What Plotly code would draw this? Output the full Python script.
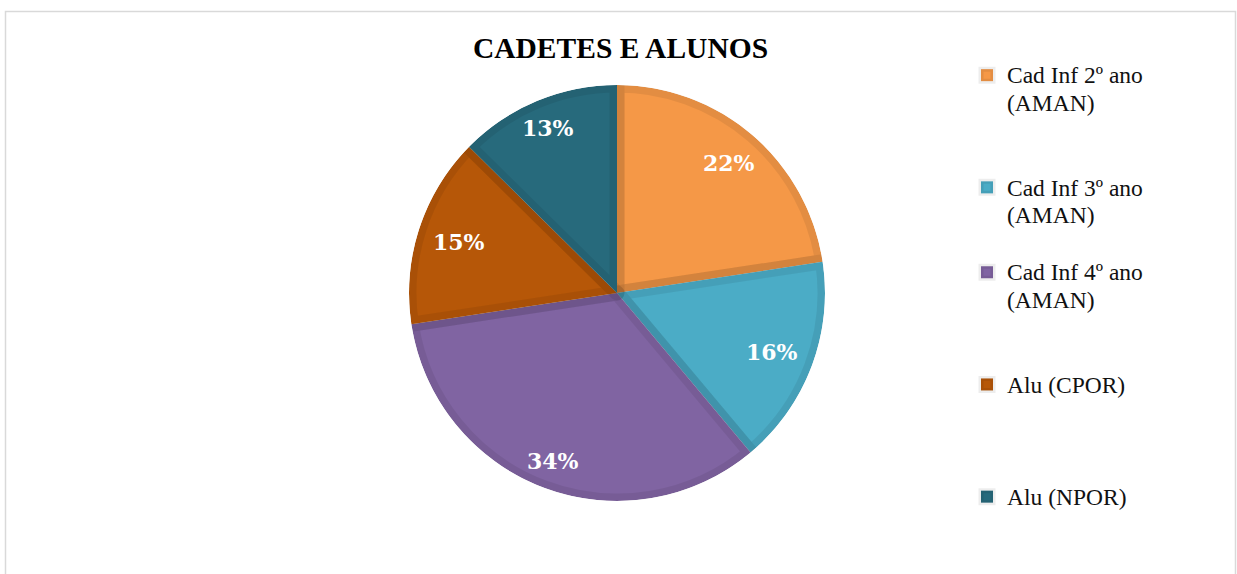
import math
import plotly.graph_objects as go

W, H = 1237, 574

categories = ["Cad Inf 2º ano<br>(AMAN)", "Cad Inf 3º ano<br>(AMAN)", "Cad Inf 4º ano<br>(AMAN)",
              "Alu (CPOR)", "Alu (NPOR)"]
values = [22.6, 16.3, 33.7, 14.8, 12.6]
pct_labels = ["22%", "16%", "34%", "15%", "13%"]
colors = ["#F59847", "#4BACC6", "#8064A2", "#B65708", "#276A7C"]
# extra blank lines so legend entries are evenly spaced like the reference
legend_pad = [2, 1, 2, 3, 0]

legend_names = ['<span style="font-size:23.5px">' + c.replace("<br>", '</span><br><span style="font-size:23.5px">') + "</span>" + "<br> " * p
                for c, p in zip(categories, legend_pad)]

cx, cy, R = 617, 293, 208


def dom(r):
    return dict(x=[(cx - r) / W, (cx + r) / W], y=[(H - cy - r) / H, (H - cy + r) / H])


fig = go.Figure()
fig.add_trace(go.Pie(
    labels=legend_names,
    values=values,
    textinfo="none",
    sort=False,
    direction="clockwise",
    rotation=0,
    marker=dict(colors=colors, line=dict(color="rgba(0,0,0,0.07)", width=15)),
    domain=dom(R),
    hoverinfo="label+percent",
))
# white ring that hides the part of the slice outline falling outside the pie
fig.add_trace(go.Pie(
    values=[1], labels=["ring"], marker=dict(colors=["white"], line=dict(width=0)),
    hole=R / (R + 14), domain=dom(R + 14), textinfo="none", showlegend=False,
    hoverinfo="skip", sort=False,
))

# data labels placed "inside end" of each slice, derived from the values
total = sum(values)
annotations = []
cum = 0.0
hw, hh, r_edge = 30, 6, 196
for v, t in zip(values, pct_labels):
    mid = (cum + v / 2) / total * 2 * math.pi
    cum += v
    s, c = math.sin(mid), math.cos(mid)
    r = r_edge - (hw * abs(s) + hh * abs(c))
    px, py = cx + r * s, cy - r * c
    annotations.append(dict(x=px / W, y=(H - py) / H, xref="paper", yref="paper",
                            text="<b>" + t + "</b>", showarrow=False,
                            xanchor="center", yanchor="middle",
                            font=dict(family="DejaVu Serif", size=22, color="white")))

fig.update_layout(
    width=W, height=H,
    margin=dict(l=0, r=0, t=0, b=0),
    paper_bgcolor="white",
    plot_bgcolor="white",
    title=dict(text="<b>CADETES E ALUNOS</b>", x=620.5 / W, xanchor="center",
               y=1 - 48 / H, yanchor="middle",
               font=dict(family="Liberation Serif", size=29.5, color="black")),
    legend=dict(x=967 / W, xanchor="left", y=1 - 55 / H, yanchor="top",
                valign="top", font=dict(family="Liberation Serif", size=21, color="#111111"),
                bgcolor="rgba(0,0,0,0)"),
    annotations=annotations,
    shapes=[dict(type="rect", xref="paper", yref="paper",
                 x0=5.5 / W, x1=1235.5 / W, y0=-0.05, y1=1 - 11.5 / H,
                 line=dict(color="#D9D9D9", width=1.5), layer="below")],
)

fig.write_html("out.html")
